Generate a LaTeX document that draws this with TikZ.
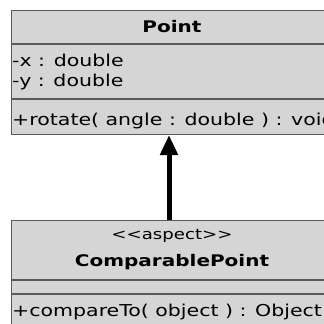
\documentclass[tikz,border=0pt]{standalone}
\usepackage{fontspec}
\setmainfont[FakeStretch=1.25]{DejaVu Sans}
\usetikzlibrary{arrows.meta}
\definecolor{boxfill}{HTML}{D5D5D5}
\definecolor{boxline}{HTML}{5A5A5A}
\tikzset{
  classbox/.style={draw=boxline, line width=1.4pt, fill=boxfill, rectangle,
    anchor=north west, inner sep=0pt},
  divider/.style={draw=boxline, line width=1.4pt},
  member/.style={anchor=base west, inner sep=0pt, font=\fontsize{16.4}{18}\selectfont},
  title/.style={anchor=base, inner sep=0pt, font=\bfseries\fontsize{16}{18}\selectfont},
  stereo/.style={anchor=base, inner sep=0pt, font=\fontsize{14.5}{16}\selectfont},
  inherit/.style={line width=5pt, -{Triangle[width=17pt,length=20pt]}}
}
\begin{document}
\begin{tikzpicture}[x=1pt,y=1pt]
  \useasboundingbox (0,0) rectangle (324,-324);
  \clip (0,0) rectangle (324,-324);
  \fill[white] (0,0) rectangle (324,-324);

  % class Point
  \node[classbox, minimum width=323pt, minimum height=124pt] (point) at (10.5,-10) {};
  \draw[divider] (10.5,-44) -- (333.5,-44);
  \draw[divider] (10.5,-99) -- (333.5,-99);
  \node[title] (pname) at (172,-32) {Point};
  \node[member] (px) at (12,-66) {-x : double};
  \node[member] (py) at (12,-86) {-y : double};
  \node[member] (prot) at (12,-125) {+rotate( angle : double ) : void};

  % aspect ComparablePoint
  \node[classbox, minimum width=323pt, minimum height=124pt] (cpoint) at (10.5,-220) {};
  \draw[divider] (10.5,-280) -- (333.5,-280);
  \draw[divider] (10.5,-294) -- (333.5,-294);
  \node[stereo] (cster) at (172,-239) {{<}{<}aspect{>}{>}};
  \node[title] (cname) at (172,-266) {ComparablePoint};
  \node[member] (ccmp) at (12,-316) {+compareTo( object ) : Object};

  % generalisation arrow
  \coordinate (tail) at (169,-220);
  \coordinate (head) at (169,-135);
  \draw[inherit] (tail) -- (head);
\end{tikzpicture}
\end{document}
